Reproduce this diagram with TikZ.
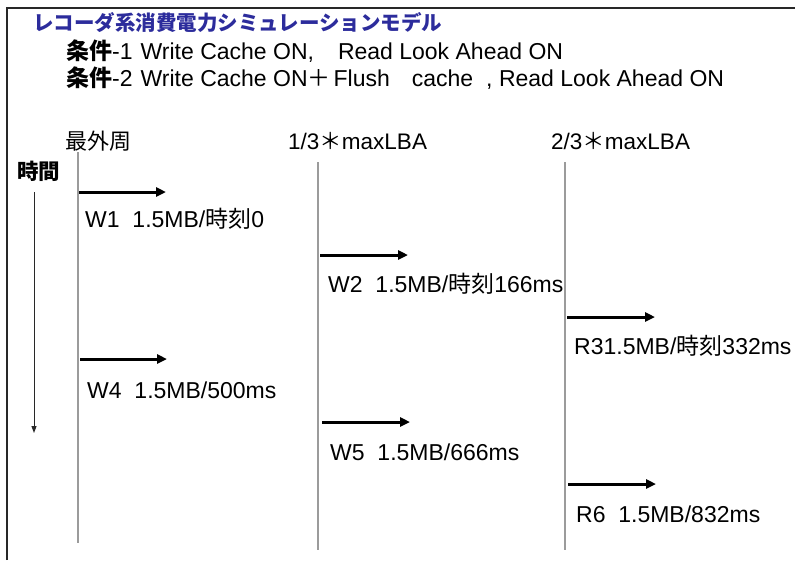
\documentclass[tikz,border=0pt]{standalone}
\usepackage{fontspec}
\setmainfont{Liberation Sans}
\newfontfamily\jp{Noto Sans CJK JP}
\usetikzlibrary{arrows.meta}
\definecolor{titleblue}{RGB}{44,44,156}
\definecolor{lanegray}{RGB}{155,155,155}
\definecolor{framegray}{RGB}{40,40,40}
\begin{document}
\begin{tikzpicture}[x=1pt,y=-1pt,
  txt/.style={anchor=base west,inner sep=0pt,font=\fontsize{23}{28}\selectfont},
  hdr/.style={anchor=base west,inner sep=0pt,font=\fontsize{22.5}{27}\selectfont},
  lane/.style={draw=lanegray,line width=1.2pt},
  op/.style={line width=3pt,-{Triangle[length=10pt,width=9pt]}},
  timearrow/.style={draw=framegray,line width=1pt,-{Triangle[length=7pt,width=5pt]}}]
\useasboundingbox (0,0) rectangle (795,560);
\draw[framegray,line width=2pt] (7,560) -- (7,8) -- (795,8);
% title and conditions
\node[txt,text=titleblue,font=\jp\bfseries\fontsize{20.5}{24}\selectfont] (title) at (33,30) {レコーダ系消費電力シミュレーションモデル};
\node[txt] (cond1) at (66,59) {{\jp\bfseries 条件}-1\hspace{8pt}Write Cache ON,\hspace{24pt}Read Look Ahead ON};
\node[txt] (cond2) at (66,86) {{\jp\bfseries 条件}-2\hspace{8pt}Write Cache ON{\jp ＋}\hspace{3pt}Flush\hspace{22pt}cache\hspace{13pt}, Read Look Ahead ON};
% headers
\node[hdr,font=\jp\fontsize{22}{26}\selectfont] (h1) at (65,149) {最外周};
\node[hdr] (h2) at (288,149) {1/3{\jp ＊}maxLBA};
\node[hdr] (h3) at (551,149) {2/3{\jp ＊}maxLBA};
\node[hdr,font=\jp\bfseries\fontsize{21.5}{26}\selectfont] (time) at (17,179) {時間};
% lanes
\coordinate (l1t) at (78,152); \coordinate (l1b) at (78,543);
\coordinate (l2t) at (318,162); \coordinate (l2b) at (318,550);
\coordinate (l3t) at (565,162); \coordinate (l3b) at (565,550);
\draw[lane] (l1t) -- (l1b);
\draw[lane] (l2t) -- (l2b);
\draw[lane] (l3t) -- (l3b);
% time axis
\coordinate (t0) at (34,192); \coordinate (t1) at (34,433);
\draw[timearrow] (t0) -- (t1);
% operations
\coordinate (a1s) at (79,192);  \coordinate (a1e) at (166,192);
\coordinate (a2s) at (320,255); \coordinate (a2e) at (408,255);
\coordinate (a3s) at (567,317); \coordinate (a3e) at (655,317);
\coordinate (a4s) at (80,359);  \coordinate (a4e) at (167,359);
\coordinate (a5s) at (322,422); \coordinate (a5e) at (410,422);
\coordinate (a6s) at (568,484); \coordinate (a6e) at (656,484);
\draw[op] (a1s) -- (a1e);
\draw[op] (a2s) -- (a2e);
\draw[op] (a3s) -- (a3e);
\draw[op] (a4s) -- (a4e);
\draw[op] (a5s) -- (a5e);
\draw[op] (a6s) -- (a6e);
\node[txt] (w1) at (85,227) {W1\ \ 1.5MB/{\jp 時刻}0};
\node[txt] (w2) at (328,292) {W2\ \ 1.5MB/{\jp 時刻}166ms};
\node[txt] (r3) at (574,354) {R31.5MB/{\jp 時刻}332ms};
\node[txt] (w4) at (87,398) {W4\ \ 1.5MB/500ms};
\node[txt] (w5) at (330,460) {W5\ \ 1.5MB/666ms};
\node[txt] (r6) at (576,522) {R6\ \ 1.5MB/832ms};
\end{tikzpicture}
\end{document}
